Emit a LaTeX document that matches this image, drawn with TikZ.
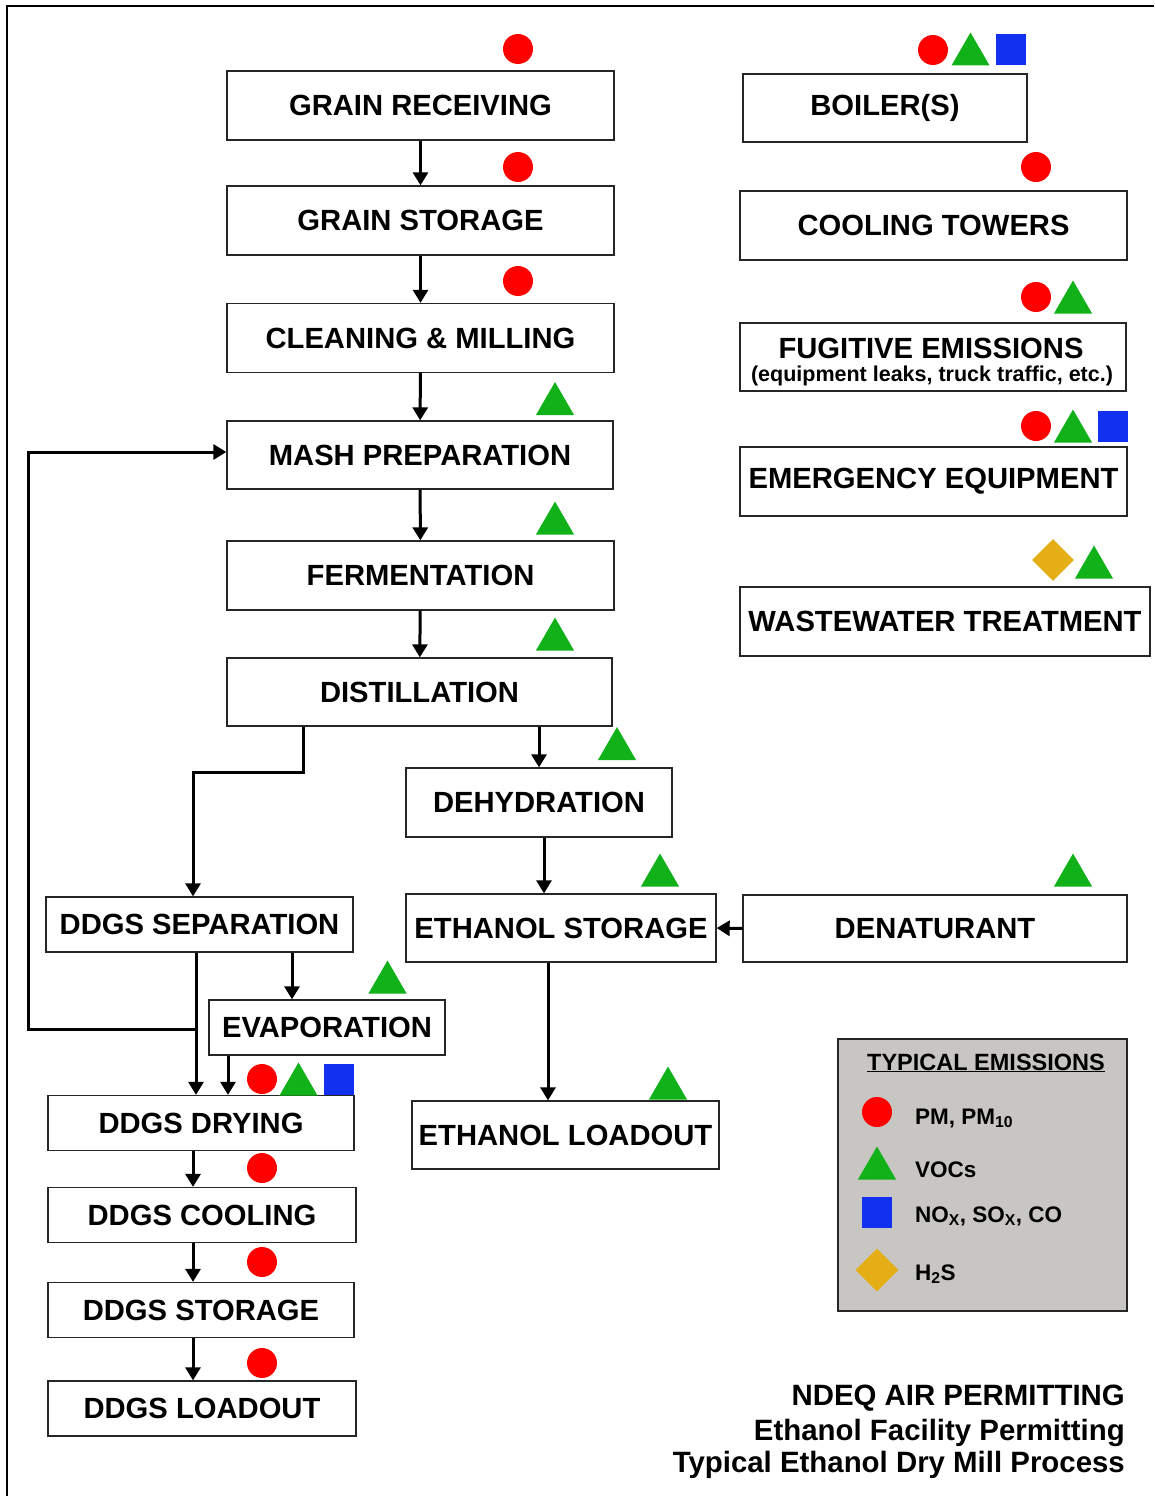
\documentclass[tikz,border=0pt]{standalone}
\usepackage{fontspec}
\setmainfont{Liberation Sans}
\usetikzlibrary{arrows.meta, shapes.geometric, calc}

\definecolor{pmred}{RGB}{255,0,0}
\definecolor{vocgreen}{RGB}{17,178,25}
\definecolor{noxblue}{RGB}{18,48,240}
\definecolor{hsgold}{RGB}{229,174,22}
\definecolor{legendgray}{RGB}{200,198,194}

\tikzset{
  procbox/.style={draw=black!85, line width=1.3pt, fill=white, minimum height=69pt,
    inner sep=0pt, font=\bfseries\fontsize{29.2}{34}\selectfont},
  ddgsbox/.style={procbox, minimum height=55pt},
  flow/.style={line width=3pt, -{Triangle[width=15pt,length=13pt]}},
  pmdot/.style={circle, fill=pmred, minimum size=30pt, inner sep=0pt},
  voctri/.style={regular polygon, regular polygon sides=3, fill=vocgreen,
    minimum size=44pt, inner sep=0pt},
  noxsq/.style={rectangle, fill=noxblue, minimum width=30pt, minimum height=31pt, inner sep=0pt},
  hsdia/.style={diamond, fill=hsgold, minimum size=42pt, inner sep=0pt},
  legtext/.style={font=\bfseries\fontsize{22.5}{27}\selectfont, inner sep=0pt},
  titletext/.style={font=\bfseries\fontsize{29.4}{34}\selectfont, inner sep=0pt, anchor=base east}
}

\begin{document}
\begin{tikzpicture}[x=1pt, y=-1pt]
    \useasboundingbox (0,0) rectangle (1154,1496);
    % frame
    \draw[line width=2.5pt] (7,1496) -- (7,6) -- (1154,6);

    % main process column
    \node[procbox, minimum width=387pt] (grainrec) at (420.5,105.5) {GRAIN RECEIVING};
    \node[procbox, minimum width=387pt] (grainstor) at (420.5,220.5) {GRAIN STORAGE};
    \node[procbox, minimum width=387pt] (cleanmill) at (420.5,338) {CLEANING \& MILLING};
    \node[procbox, minimum width=386pt, minimum height=68pt] (mashprep) at (420,455) {MASH PREPARATION};
    \node[procbox, minimum width=387pt] (ferment) at (420.5,575.5) {FERMENTATION};
    \node[procbox, minimum width=385pt, minimum height=68pt] (distill) at (419.5,692) {DISTILLATION};

    % ethanol side
    \node[procbox, minimum width=266pt] (dehyd) at (539,802.5) {DEHYDRATION};
    \node[procbox, minimum width=310pt, minimum height=68pt] (etohstor) at (561,928) {ETHANOL STORAGE};
    \node[procbox, minimum width=384pt, minimum height=67pt] (denat) at (935,928.5) {DENATURANT};
    \node[procbox, minimum width=307pt, minimum height=68pt] (etohload) at (565.5,1135) {ETHANOL LOADOUT};

    % ddgs side
    \node[ddgsbox, minimum width=307pt] (ddgssep) at (199.5,924.5) {DDGS SEPARATION};
    \node[ddgsbox, minimum width=236pt] (evap) at (327,1027.5) {EVAPORATION};
    \node[ddgsbox, minimum width=306pt] (drying) at (201,1123) {DDGS DRYING};
    \node[ddgsbox, minimum width=308pt] (cooling) at (202,1215) {DDGS COOLING};
    \node[ddgsbox, minimum width=306pt] (ddgsstor) at (201,1310) {DDGS STORAGE};
    \node[ddgsbox, minimum width=308pt] (ddgsload) at (202,1408.5) {DDGS LOADOUT};

    % other sources
    \node[procbox, minimum width=284pt, minimum height=68pt] (boiler) at (885,108) {BOILER(S)};
    \node[procbox, minimum width=387pt] (cooltow) at (933.5,225.5) {COOLING TOWERS};
    \node[procbox, minimum width=386pt, minimum height=68pt] (fugitive) at (933,357) {};
    \node[font=\bfseries\fontsize{29.2}{34}\selectfont, inner sep=0pt, anchor=base] (fugtitle) at (931,358) {FUGITIVE EMISSIONS};
    \node[font=\bfseries\fontsize{21.5}{24}\selectfont, inner sep=0pt, anchor=base] (fugnote) at (932,381) {(equipment leaks, truck traffic, etc.)};
    \node[procbox, minimum width=387pt] (emerg) at (933.5,481.5) {EMERGENCY EQUIPMENT};
    \node[procbox, minimum width=410pt] (wastew) at (945,621.5) {WASTEWATER TREATMENT};

    % connectors
    \draw[flow] (grainrec) -- (grainstor);
    \draw[flow] (grainstor) -- (cleanmill);
    \draw[flow] (cleanmill) -- (mashprep);
    \draw[flow] (mashprep) -- (ferment);
    \draw[flow] (ferment) -- (distill);
    \draw[flow] (distill.south -| dehyd.north) -- (dehyd.north);
    \draw[flow] ([xshift=-116.5pt]distill.south) -- ++(0,46) -| ([xshift=-6.5pt]ddgssep.north);
    \draw[flow] ([xshift=5pt]dehyd.south) -- ([xshift=5pt]dehyd.south |- etohstor.north);
    \draw[flow] (denat.west) -- (etohstor.east);
    \draw[flow] ([xshift=-13pt]etohstor.south) -- ([xshift=-13pt]etohstor.south |- etohload.north);
    \draw[flow] ([xshift=-35pt]evap.north |- ddgssep.south) -- ([xshift=-35pt]evap.north);
    \draw[flow] ([xshift=-3.5pt]ddgssep.south) -- ([xshift=-3.5pt]ddgssep.south |- drying.north);
    \coordinate (split) at ([xshift=-3.5pt]ddgssep.south |- 0,1029.5);
    \draw[flow] (split) -- ++(-167.5,0) |- ([yshift=3pt]mashprep.west);
    \draw[flow] ([xshift=-99pt]evap.south) -- ([xshift=-99pt]evap.south |- drying.north);
    \draw[flow] ([xshift=-8pt]drying.south) -- ([xshift=-8pt]drying.south |- cooling.north);
    \draw[flow] ([xshift=-9pt]cooling.south) -- ([xshift=-9pt]cooling.south |- ddgsstor.north);
    \draw[flow] ([xshift=-8pt]ddgsstor.south) -- ([xshift=-8pt]ddgsstor.south |- ddgsload.north);

    % emission markers
    \node[pmdot] (grainrec-pm) at (518,49) {};
    \node[pmdot] (grainstor-pm) at (518,167) {};
    \node[pmdot] (cleanmill-pm) at (518,281) {};
    \node[voctri] (mashprep-voc) at (555,404) {};
    \node[voctri] (ferment-voc) at (555,523.5) {};
    \node[voctri] (distill-voc) at (555,639.5) {};
    \node[voctri] (dehyd-voc) at (617,749) {};
    \node[voctri] (etohstor-voc) at (660,875.5) {};
    \node[voctri] (denat-voc) at (1073,875.5) {};
    \node[voctri] (etohload-voc) at (668,1088.5) {};
    \node[voctri] (evap-voc) at (387.5,982.5) {};
    \node[pmdot] (drying-pm) at (262,1079) {};
    \node[voctri] (drying-voc) at (298.5,1084.5) {};
    \node[noxsq] (drying-nox) at (338.5,1079) {};
    \node[pmdot] (cooling-pm) at (262,1168) {};
    \node[pmdot] (ddgsstor-pm) at (262,1262) {};
    \node[pmdot] (ddgsload-pm) at (262,1363) {};
    \node[pmdot] (boiler-pm) at (933,50) {};
    \node[voctri] (boiler-voc) at (970.5,54.5) {};
    \node[noxsq] (boiler-nox) at (1010.5,50) {};
    \node[pmdot] (cooltow-pm) at (1036,167) {};
    \node[pmdot] (fugitive-pm) at (1036,297) {};
    \node[voctri] (fugitive-voc) at (1073,302.5) {};
    \node[pmdot] (emerg-pm) at (1036,426) {};
    \node[voctri] (emerg-voc) at (1073,431.5) {};
    \node[noxsq] (emerg-nox) at (1113,426) {};
    \node[hsdia] (wastew-hs) at (1053,560) {};
    \node[voctri] (wastew-voc) at (1094,567.5) {};

    % legend
    \node[draw=black!85, line width=1.3pt, fill=legendgray, minimum width=289pt, minimum height=272pt,
      inner sep=0pt] (legend) at (982.5,1175) {};
    \node[legtext, anchor=base, font=\bfseries\fontsize{23.5}{28}\selectfont] (legtitle) at (986,1070) {\underline{TYPICAL EMISSIONS}};
    \node[pmdot] (leg-pm) at (877,1112) {};
    \node[voctri] (leg-voc) at (877,1168.5) {};
    \node[noxsq] (leg-nox) at (877,1212) {};
    \node[hsdia, minimum size=43pt] (leg-hs) at (877,1270) {};
    \node[legtext, anchor=base west] (leg-pmtxt) at (915,1124) {PM, PM\textsubscript{10}};
    \node[legtext, anchor=base west] (leg-voctxt) at (915,1177) {VOCs};
    \node[legtext, anchor=base west] (leg-noxtxt) at (915,1222) {NO\textsubscript{X}, SO\textsubscript{X}, CO};
    \node[legtext, anchor=base west] (leg-hstxt) at (915,1280) {H\textsubscript{2}S};

    % title block
    \node[titletext] (title1) at (1125,1405) {NDEQ AIR PERMITTING};
    \node[titletext] (title2) at (1125,1440) {Ethanol Facility Permitting};
    \node[titletext] (title3) at (1125,1472) {Typical Ethanol Dry Mill Process};
\end{tikzpicture}
\end{document}
